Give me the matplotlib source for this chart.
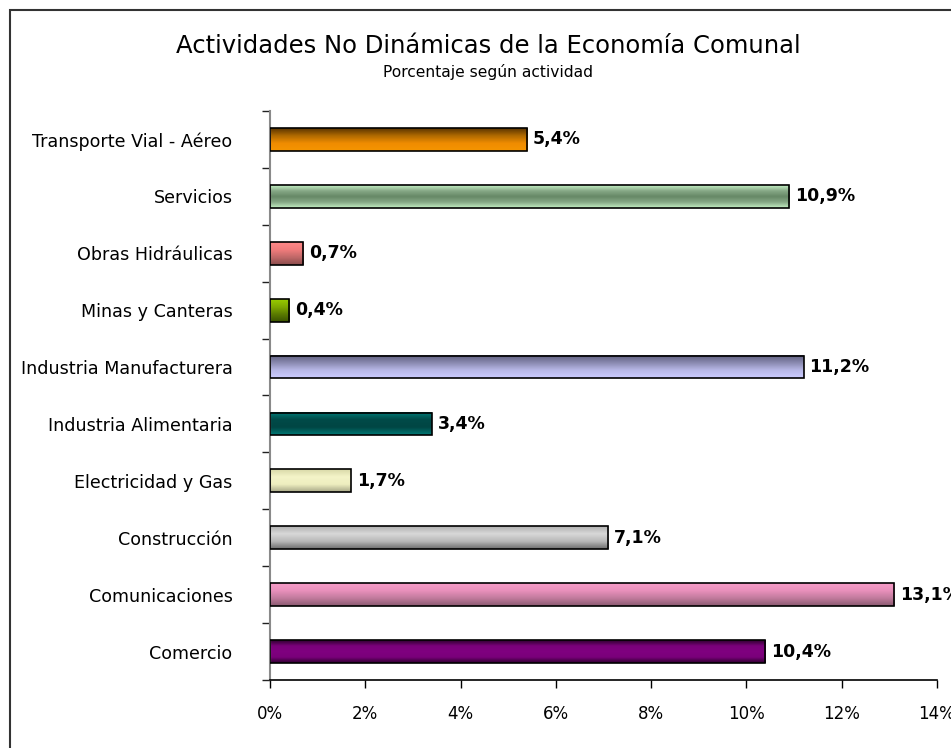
import numpy as np
import matplotlib
matplotlib.use("Agg")
import matplotlib.pyplot as plt
from matplotlib.colors import LinearSegmentedColormap
from matplotlib.patches import Rectangle

categories = ["Comercio", "Comunicaciones", "Construcción", "Electricidad y Gas",
              "Industria Alimentaria", "Industria Manufacturera", "Minas y Canteras",
              "Obras Hidráulicas", "Servicios", "Transporte Vial - Aéreo"]
values = [10.4, 13.1, 7.1, 1.7, 3.4, 11.2, 0.4, 0.7, 10.9, 5.4]
value_labels = ["10,4%", "13,1%", "7,1%", "1,7%", "3,4%", "11,2%", "0,4%", "0,7%", "10,9%", "5,4%"]
xticks = [0, 2, 4, 6, 8, 10, 12, 14]
xtick_labels = ["0%", "2%", "4%", "6%", "8%", "10%", "12%", "14%"]

# gradient stops, top -> bottom
gradients = [
    ["#2e002e", "#7a007a", "#800080", "#7a007a", "#2e002e"],
    ["#f79cc8", "#e890bb", "#c07a9c", "#8a5a70"],
    ["#b0b0b0", "#d8d8d8", "#b8b8b8", "#6e6e6e"],
    ["#d8d8a8", "#f4f4c8", "#eeeec0", "#a8a888"],
    ["#007a76", "#004a48", "#004644", "#007a76"],
    ["#5e5e7e", "#8a8ab0", "#b8b8e8", "#ccccff"],
    ["#99cc00", "#80aa00", "#5a7a00", "#3a5200"],
    ["#ff8888", "#f07c7c", "#c06868", "#8a4c4c"],
    ["#c4f0c4", "#86a886", "#668866", "#86a886", "#c4f0c4"],
    ["#5a3400", "#b06a00", "#f08c00", "#f59500"],
]

fig = plt.figure(figsize=(9.51, 7.48), dpi=100)
fig.patch.set_facecolor("white")
fig.patches.append(Rectangle((10/951, -0.1), 1.2, 1 - 10/748 + 0.1, transform=fig.transFigure,
                             fill=False, edgecolor="#333333", linewidth=1.5))

ax = fig.add_axes([270/951, 1 - 680/748, 667/951, (680 - 111)/748])
ypos = np.arange(len(categories))
bar_h = 0.4
bars = ax.barh(ypos, values, height=bar_h, facecolor="none", edgecolor="black",
               linewidth=1.2, zorder=3)
for i, (b, stops) in enumerate(zip(bars, gradients)):
    cmap = LinearSegmentedColormap.from_list(f"g{i}", stops)
    grad = np.linspace(0, 1, 64).reshape(-1, 1)
    ax.imshow(grad, cmap=cmap, aspect="auto", interpolation="bilinear",
              extent=[0, values[i], ypos[i] - bar_h / 2, ypos[i] + bar_h / 2],
              origin="upper", zorder=2)
    ax.text(values[i] + 0.12, ypos[i], value_labels[i], va="center", ha="left",
            fontsize=12.5, fontweight="bold", family="DejaVu Sans", zorder=4,
            clip_on=False)

ax.set_xlim(0, 14)
ax.set_ylim(-0.5, len(categories) - 0.5)
ax.set_xticks(xticks)
ax.set_xticklabels(xtick_labels, fontsize=12,
                   family=["Liberation Sans Narrow", "DejaVu Sans"])
ax.set_yticks(ypos)
ax.set_yticklabels(categories, fontsize=12.6, family="DejaVu Sans")
ax.set_yticks(np.arange(-0.5, len(categories), 1), minor=True)
ax.tick_params(axis="y", which="major", length=0, pad=27)
ax.tick_params(axis="y", which="minor", length=6, width=1, color="#222222", direction="out")
ax.tick_params(axis="x", which="major", length=6, width=1, color="black", direction="out", pad=12)
for s in ["top", "right"]:
    ax.spines[s].set_visible(False)
ax.spines["left"].set_color("#8a8a8a")
ax.spines["left"].set_linewidth(1.5)
ax.spines["bottom"].set_color("black")
ax.spines["bottom"].set_linewidth(1.2)

fig.text(488/951, 1 - 46/748, "Actividades No Dinámicas de la Economía Comunal",
         ha="center", va="center", fontsize=17.5, family="DejaVu Sans")
fig.text(488/951, 1 - 72/748, "Porcentaje según actividad",
         ha="center", va="center", fontsize=11.2, family="DejaVu Sans")

fig.savefig("out.png", dpi=100, facecolor="white")
